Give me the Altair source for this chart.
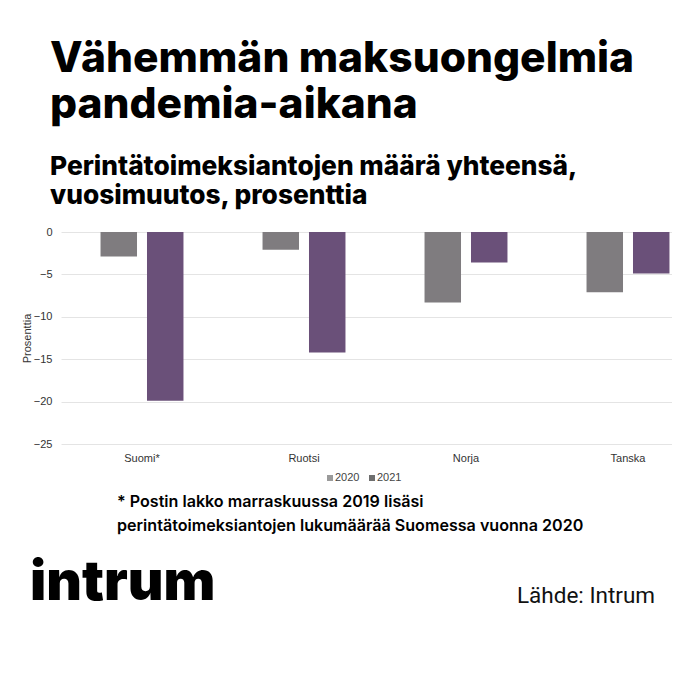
import altair as alt
import pandas as pd

# ---- data ----
countries = ["Suomi*", "Ruotsi", "Norja", "Tanska"]
values_2020 = [-2.9, -2.1, -8.3, -7.1]
values_2021 = [-19.9, -14.2, -3.6, -4.9]
years = ["2020", "2021"]
bar_colors = ["#7f7c7f", "#6a5079"]
legend_colors = ["#9a9a9a", "#6e6e6e"]
y_ticks = [0, -5, -10, -15, -20, -25]

title_text = "Vähemmän maksuongelmia\npandemia-aikana"
subtitle_text = "Perintätoimeksiantojen määrä yhteensä,\nvuosimuutos, prosenttia"
footnote_text = "* Postin lakko marraskuussa 2019 lisäsi\nperintätoimeksiantojen lukumäärää Suomessa vuonna 2020"
logo_text = "intrum"
source_text = "Lähde: Intrum"
y_title = "Prosenttia"

rows = []
for c, a, b in zip(countries, values_2020, values_2021):
    rows.append({"maa": c, "vuosi": years[0], "arvo": a})
    rows.append({"maa": c, "vuosi": years[1], "arvo": b})
df = pd.DataFrame(rows)

W, H = 611, 212

bars = alt.Chart(df).mark_bar().encode(
    x=alt.X("maa:N", sort=countries, title=None,
            scale=alt.Scale(range=[0, 648], paddingInner=0.488, paddingOuter=0.244),
            axis=alt.Axis(labelAngle=0, ticks=False, domain=False, labelFontSize=11,
                          labelColor="#333333", labelPadding=8, labelFont="Liberation Sans",
                          grid=False)),
    xOffset=alt.XOffset("vuosi:N", sort=years,
                        scale=alt.Scale(paddingInner=0.215, paddingOuter=0)),
    y=alt.Y("arvo:Q", title=y_title,
            scale=alt.Scale(domain=[-25, 0], nice=False),
            axis=alt.Axis(values=y_ticks, ticks=False, domain=False, labelFontSize=11,
                          labelColor="#333333", labelPadding=9, labelFont="Liberation Sans",
                          gridColor="#e4e4e4", titleFontSize=11, titleFontWeight="normal",
                          titleColor="#333333", titleFont="Liberation Sans", titlePadding=1)),
    color=alt.Color("vuosi:N", sort=years,
                    scale=alt.Scale(domain=years, range=bar_colors), legend=None),
)


def text_layer(txt, x, y, size, weight, font, line_height=None, color="#111111"):
    kw = dict(align="left", baseline="alphabetic", fontSize=size, fontWeight=weight,
              font=font, color=color, lineBreak="\n")
    if line_height:
        kw["lineHeight"] = line_height
    return alt.Chart(pd.DataFrame({"t": [txt]})).mark_text(**kw).encode(
        text="t:N", x=alt.value(x), y=alt.value(y))


# manual legend (symbols in grey tones as in the reference)
legend_layers = []
leg_x0, leg_y = 269, 246
for i, (yr, col) in enumerate(zip(years, legend_colors)):
    sx = leg_x0 + i * 42
    legend_layers.append(
        alt.Chart(pd.DataFrame({"v": [yr]})).mark_square(size=36, color=col, opacity=1)
        .encode(x=alt.value(sx), y=alt.value(leg_y))
    )
    legend_layers.append(
        alt.Chart(pd.DataFrame({"v": [yr]})).mark_text(
            align="left", baseline="middle", fontSize=11, font="Liberation Sans",
            color="#444444").encode(text="v:N", x=alt.value(sx + 5), y=alt.value(leg_y))
    )

title = text_layer(title_text, -11, -160, 42.5, 800, "Inter", 46, "#000000")
subtitle = text_layer(subtitle_text, -11, -57, 26.3, 800, "Inter", 29, "#000000")
footnote = text_layer(footnote_text, 56, 275, 16.1, 600, "Inter", 24, "#000000")
logo = text_layer(logo_text, -31, 368, 55, 900, "Inter", None, "#000000")
source = text_layer(source_text, 456, 371, 22.5, "normal", "Roboto", None, "#111111")

chart = alt.layer(bars, *legend_layers, title, subtitle, footnote, logo, source).properties(
    width=W, height=H,
    autosize=alt.AutoSizeParams(type="none"),
    padding={"left": 53, "top": 224, "right": 0, "bottom": 228},
    background="white",
).configure_view(stroke=None)

chart.save("out.html", embed_options={"renderer": "svg", "actions": False})
